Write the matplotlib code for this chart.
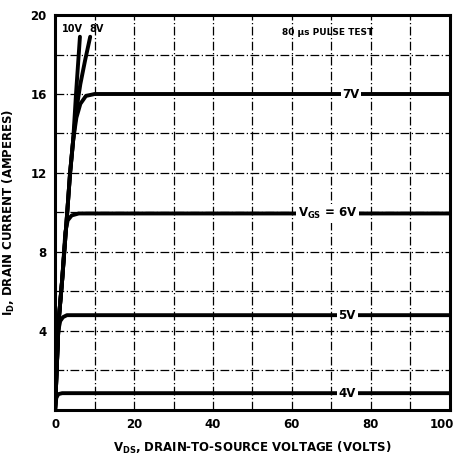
import matplotlib.pyplot as plt
from matplotlib.transforms import ScaledTranslation
import numpy as np

plt.rcParams['font.family'] = ['DejaVu Sans']
plt.rcParams['font.weight'] = 'bold'
plt.rcParams['mathtext.default'] = 'bf'

# Output characteristics (V_DS in volts, I_D in amps)
vds_10v = [0, 0.5, 0.9, 1.8, 3.0, 3.8, 4.6, 5.3, 6.3]
id_10v = [0, 2.5, 4.5, 6.6, 9.8, 12.0, 13.7, 16.0, 18.9]

vds_8v = [0, 0.5, 0.9, 1.8, 3.0, 3.8, 4.6, 5.4, 6.4, 7.6, 8.9]
id_8v = [0, 2.5, 4.5, 6.6, 9.8, 12.0, 13.7, 15.2, 16.5, 17.7, 18.9]

vds_7v = [0, 0.5, 0.9, 1.8, 3.0, 3.8, 4.6, 5.4, 6.4, 7.8, 10.0, 100]
id_7v = [0, 2.5, 4.5, 6.6, 9.8, 12.0, 13.7, 14.8, 15.5, 15.9, 16.0, 16.0]

vds_6v = [0, 0.5, 0.9, 1.8, 2.6, 3.2, 4.2, 6.0, 100]
id_6v = [0, 2.5, 4.5, 6.6, 9.0, 9.6, 9.85, 9.95, 9.95]

vds_5v = [0, 0.4, 0.8, 1.3, 2.0, 3.0, 100]
id_5v = [0, 2.5, 4.0, 4.5, 4.7, 4.8, 4.8]

vds_4v = [0, 0.3, 0.8, 1.8, 100]
id_4v = [0, 0.6, 0.8, 0.85, 0.85]

curve_labels = ['7V', 'V$_{GS}$ = 6V', '5V', '4V']
label_x = [75, 69, 74, 74]
label_y = [16.0, 9.95, 4.8, 0.85]

xticks = [0, 20, 40, 60, 80, 100]
yticks = [4, 8, 12, 16, 20]

fig = plt.figure(figsize=(4.59, 4.55), dpi=100)
ax = fig.add_axes([0.12, 0.099, 0.86, 0.868])

lw = 2.8
for v, i in [(vds_10v, id_10v), (vds_8v, id_8v), (vds_7v, id_7v),
             (vds_6v, id_6v), (vds_5v, id_5v), (vds_4v, id_4v)]:
    ax.plot(v, i, color='black', lw=lw, solid_capstyle='round', zorder=3)

for txt, x, y in zip(curve_labels, label_x, label_y):
    ax.text(x, y, txt, ha='center', va='center', fontsize=8.5, fontweight='bold',
            bbox=dict(facecolor='white', edgecolor='none', pad=1.2), zorder=4)

ax.text(4.4, 19.3, '10V', ha='center', va='center', fontsize=7, fontweight='bold')
ax.text(10.4, 19.3, '8V', ha='center', va='center', fontsize=7, fontweight='bold')
ax.text(69, 19.1, '80 µs PULSE TEST', ha='center', va='center', fontsize=6.5,
        fontweight='bold')

ax.set_xlim(0, 100)
ax.set_ylim(0, 20)
ax.set_xticks(np.arange(0, 101, 10), minor=True)
ax.set_yticks(np.arange(0, 21, 2), minor=True)
ax.set_xticks(xticks)
ax.set_yticks(yticks)
ax.tick_params(which='both', length=0, labelsize=8.5, pad=6)
for lab in ax.get_xticklabels() + ax.get_yticklabels():
    lab.set_fontweight('bold')
# pull the "100" label slightly inward like the original
last = ax.get_xticklabels()[-1]
last.set_transform(last.get_transform() + ScaledTranslation(-6 / 72, 0, fig.dpi_scale_trans))

ax.grid(which='both', color='black', lw=0.9, linestyle=(0, (7, 2, 1, 2)))
for sp in ax.spines.values():
    sp.set_linewidth(2.2)

ax.set_xlabel('V$_{DS}$, DRAIN-TO-SOURCE VOLTAGE (VOLTS)', fontsize=8.5,
              fontweight='bold')
ax.xaxis.set_label_coords(0.5, -0.075)
ax.set_ylabel('I$_D$, DRAIN CURRENT (AMPERES)', fontsize=8.5, fontweight='bold')
ax.yaxis.set_label_coords(-0.096, 0.5)

fig.savefig('out.png', dpi=100)
